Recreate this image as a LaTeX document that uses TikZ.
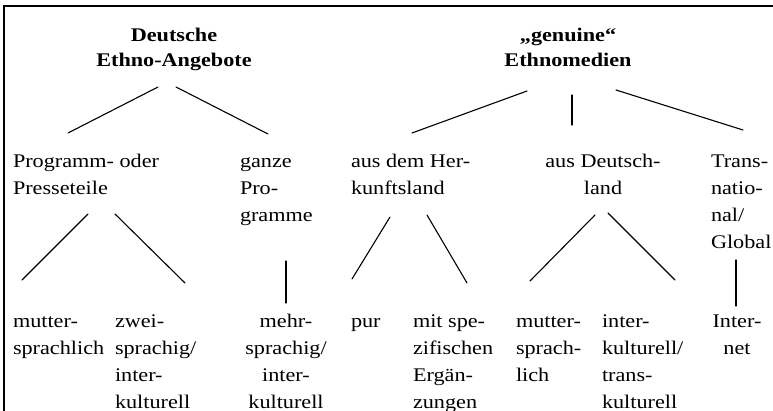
\documentclass[tikz,border=0pt]{standalone}
\usepackage{fontspec}
\setmainfont{Liberation Serif}[FakeStretch=1.15]
% stacked lines whose baseline is that of the first line
\newcommand\leftstack[1]{\begin{tabular}[t]{@{}l@{}}#1\end{tabular}}
\newcommand\midstack[1]{\begin{tabular}[t]{@{}c@{}}#1\end{tabular}}
\begin{document}
\begin{tikzpicture}[x=1pt,y=1pt,
  txt/.style={inner sep=0pt, outer sep=0pt,
    font=\fontsize{19.3}{27}\selectfont},
  lefttxt/.style={txt, anchor=base west},
  midtxt/.style={txt, anchor=base},
  headtxt/.style={inner sep=0pt, outer sep=0pt, anchor=base,
    font=\fontsize{19.3}{24.5}\selectfont\bfseries},
  link/.style={line width=1.1pt, line cap=round},
  frame/.style={line width=1.2pt}]
\useasboundingbox (0,0) rectangle (773,-411);

% open frame: top and left edges
\draw[frame] (4,-420) -- (4,-6) -- (780,-6);

% headings
\node[headtxt] (dea) at (174,-42) {\midstack{Deutsche\\Ethno-Angebote}};
\node[headtxt] (gem) at (568,-42) {\midstack{„genuine“\\Ethnomedien}};

% second level
\node[lefttxt] (pp)  at (13,-168)  {\leftstack{Programm- oder\\Presseteile}};
\node[lefttxt] (gp)  at (240,-168) {\leftstack{ganze\\Pro-\\gramme}};
\node[lefttxt] (hk)  at (351,-168) {\leftstack{aus dem Her-\\kunftsland}};
\node[midtxt]  (dl)  at (603,-168) {\midstack{aus Deutsch-\\land}};
\node[lefttxt] (tg)  at (711,-168) {\leftstack{Trans-\\natio-\\nal/\\Global}};

% third level
\node[lefttxt] (ms1) at (13,-327)  {\leftstack{mutter-\\sprachlich}};
\node[lefttxt] (zs)  at (115,-327) {\leftstack{zwei-\\sprachig/\\inter-\\kulturell}};
\node[midtxt]  (mh)  at (286,-327) {\midstack{mehr-\\sprachig/\\inter-\\kulturell}};
\node[lefttxt] (pur) at (351,-327) {pur};
\node[lefttxt] (ms)  at (413,-327) {\leftstack{mit spe-\\zifischen\\Ergän-\\zungen}};
\node[lefttxt] (ms2) at (516,-327) {\leftstack{mutter-\\sprach-\\lich}};
\node[lefttxt] (it)  at (602,-327) {\leftstack{inter-\\kulturell/\\trans-\\kulturell}};
\node[midtxt]  (in)  at (737,-327) {\midstack{Inter-\\net}};

% connector ends
\coordinate (dea-l) at (158,-87);  \coordinate (pp-t) at (68,-133);
\coordinate (dea-r) at (176,-87);  \coordinate (gp-t) at (268,-134);
\coordinate (gem-l) at (527,-91);  \coordinate (hk-t) at (412,-133);
\coordinate (gem-m) at (572,-95);  \coordinate (dl-t) at (572,-125);
\coordinate (gem-r) at (616,-90);  \coordinate (tg-t) at (743,-130);

\coordinate (pp-l)  at (88,-214);  \coordinate (ms1-t) at (22,-280);
\coordinate (pp-r)  at (115,-214); \coordinate (zs-t)  at (185,-283);
\coordinate (gp-b)  at (286,-261); \coordinate (mh-t)  at (286,-303);
\coordinate (hk-l)  at (390,-217); \coordinate (pur-t) at (352,-279);
\coordinate (hk-r)  at (427,-215); \coordinate (ms-t)  at (467,-283);
\coordinate (dl-l)  at (595,-215); \coordinate (ms2-t) at (530,-281);
\coordinate (dl-r)  at (608,-213); \coordinate (it-t)  at (675,-280);
\coordinate (tg-b)  at (736,-260); \coordinate (in-t)  at (736,-306);

\draw[link] (dea-l) -- (pp-t);
\draw[link] (dea-r) -- (gp-t);
\draw[link] (gem-l) -- (hk-t);
\draw[link] (gem-m) -- (dl-t);
\draw[link] (gem-r) -- (tg-t);
\draw[link] (pp-l) -- (ms1-t);
\draw[link] (pp-r) -- (zs-t);
\draw[link] (gp-b) -- (mh-t);
\draw[link] (hk-l) -- (pur-t);
\draw[link] (hk-r) -- (ms-t);
\draw[link] (dl-l) -- (ms2-t);
\draw[link] (dl-r) -- (it-t);
\draw[link] (tg-b) -- (in-t);
\end{tikzpicture}
\end{document}
